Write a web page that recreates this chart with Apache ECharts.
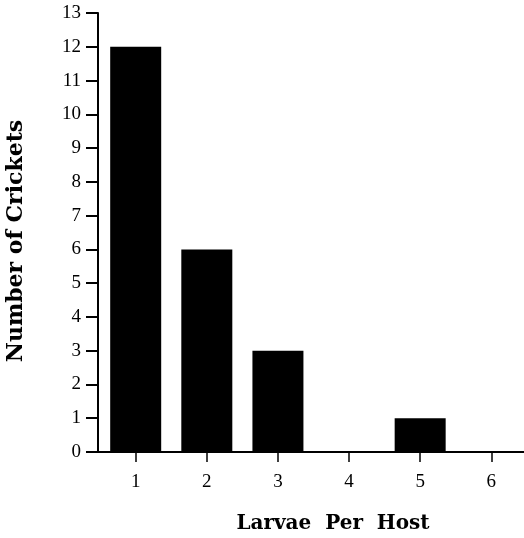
<!DOCTYPE html>
<html>
<head>
<meta charset="utf-8">
<script src="https://cdn.jsdelivr.net/npm/echarts@6/dist/echarts.min.js"></script>
<style>
  html, body { margin: 0; padding: 0; background: #fff; }
  #chart { width: 524px; height: 538px; }
</style>
</head>
<body>
<div id="chart"></div>
<script>
// Larvae per host vs number of crickets
const larvae = [1, 2, 3, 4, 5, 6]
const crickets = [12, 6, 3, 0, 1, 0]
const yTicks = [0, 1, 2, 3, 4, 5, 6, 7, 8, 9, 10, 11, 12, 13]

const chart = echarts.init(document.getElementById("chart"), null, { renderer: "canvas" })
const serif = "Liberation Serif"
const titleFont = "DejaVu Serif"

chart.setOption({
  backgroundColor: "#fff",
  animation: false,
  grid: { left: 98, right: 0, top: 13, bottom: 86, outerBoundsMode: "none" },
  xAxis: {
    type: "value",
    min: 0.47,
    max: 6.46,
    name: "Larvae  Per  Host",
    nameLocation: "middle",
    nameGap: 62,
    nameTextStyle: { fontFamily: titleFont, fontWeight: "bold", fontSize: 20, color: "#000", padding: [0, 0, 0, 44] },
    axisLine: { lineStyle: { color: "#000", width: 2 } },
    axisTick: { customValues: larvae, length: 10, lineStyle: { color: "#000", width: 1.5 } },
    axisLabel: { customValues: larvae, margin: 21, fontFamily: serif, fontSize: 19, color: "#000" },
    splitLine: { show: false },
  },
  yAxis: {
    type: "value",
    min: 0,
    max: 13,
    interval: 1,
    name: "Number of Crickets",
    nameLocation: "middle",
    nameRotate: 90,
    nameGap: 71,
    nameTextStyle: { fontFamily: titleFont, fontWeight: "bold", fontSize: 22, color: "#000", padding: [0, 17, 0, 0] },
    axisLine: { show: true, lineStyle: { color: "#000", width: 2 } },
    axisTick: { show: true, customValues: yTicks, length: 12, lineStyle: { color: "#000", width: 2 } },
    axisLabel: { customValues: yTicks, margin: 17, fontFamily: serif, fontSize: 19, color: "#000" },
    splitLine: { show: false },
  },
  series: [
    {
      type: "bar",
      data: larvae.map((x, i) => [x, crickets[i]]),
      barWidth: 51,
      itemStyle: { color: "#000" },
    },
  ],
})
</script>
</body>
</html>
